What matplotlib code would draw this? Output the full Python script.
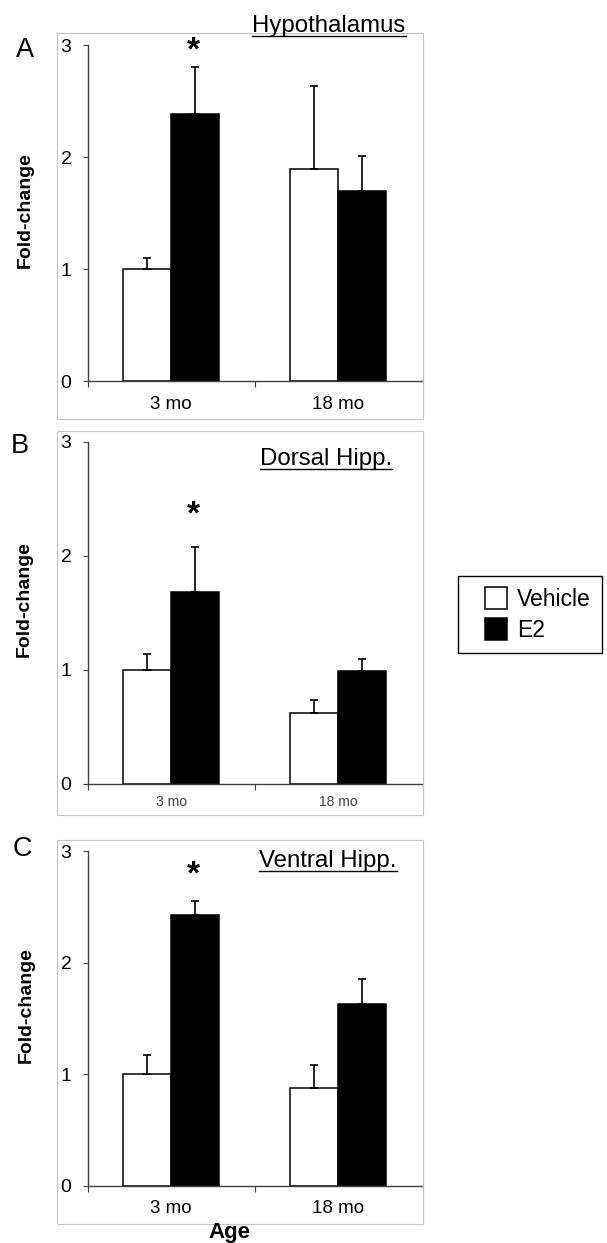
import matplotlib
matplotlib.use('Agg')
from matplotlib import pyplot as plt
from matplotlib.patches import Rectangle
from matplotlib.lines import Line2D
from matplotlib.legend_handler import HandlerPatch

plt.rcParams['font.family'] = ['Liberation Sans', 'DejaVu Sans']

# data
ages = ['3 mo', '18 mo']
regions = ['Hypothalamus', 'Dorsal Hipp.', 'Ventral Hipp.']
panel_letters = ['A', 'B', 'C']
vehicle_mean = [[1.00, 1.89], [1.00, 0.62], [1.00, 0.88]]
vehicle_err = [[0.10, 0.74], [0.14, 0.12], [0.17, 0.20]]
e2_mean = [[2.38, 1.70], [1.68, 0.99], [2.43, 1.63]]
e2_err = [[0.42, 0.31], [0.40, 0.11], [0.12, 0.22]]
star_y = [3.03, 2.44, 2.87]   # asterisk over 3 mo E2

W, H = 607, 1243
def fx(px):
    return px / W
def fy(py):
    return 1 - py / H

# layout in pixels: (y of 0, y of 3), frame top/bottom, title, ylabel, letter
axes_y = [(381, 45), (784, 442), (1186, 851)]
frames = [(33, 419), (431, 815), (840, 1224)]
titles_px = [(329, 32), (326, 465), (328, 867)]
ylabel_px = [(25, 210), (24, 599), (26, 1005)]
letter_px = [(25, 57), (20, 453), (22, 856)]
xlab_size = [13.5, 10, 13.5]
xlab_pad = [10.5, 8, 10]
xlab_color = ['black', '#404040', 'black']

fig = plt.figure(figsize=(W / 100, H / 100), dpi=100)
axis_col = '#404040'
bw = 0.287

def square_patch(legend, orig_handle, xdescent, ydescent, width, height, fontsize):
    return Rectangle((-xdescent + width - height, -ydescent), height, height)

titles = []
for i in range(3):
    y0, y3 = axes_y[i]
    ax = fig.add_axes([fx(87.5), fy(y0), (421.5 - 87.5) / W, (y0 - y3) / H])
    x = [0, 1]
    bv = ax.bar([k - bw / 2 for k in x], vehicle_mean[i], bw, color='white',
                edgecolor='black', linewidth=1.1,
                yerr=[[0, 0], vehicle_err[i]], capsize=3.2,
                error_kw=dict(elinewidth=1.2, capthick=1.2, ecolor='black'))
    be = ax.bar([k + bw / 2 for k in x], e2_mean[i], bw, color='black',
                edgecolor='black', linewidth=1.1,
                yerr=[[0, 0], e2_err[i]], capsize=3.2,
                error_kw=dict(elinewidth=1.2, capthick=1.2, ecolor='black'))
    ax.set_xlim(-0.5, 1.5)
    ax.set_ylim(0, 3)
    ax.set_yticks([0, 1, 2, 3])
    ax.set_xticks(x)
    ax.set_xticklabels(ages)
    ax.set_xticks([-0.5, 0.5], minor=True)
    for s in ['top', 'right']:
        ax.spines[s].set_visible(False)
    for s in ['left', 'bottom']:
        ax.spines[s].set_color(axis_col)
        ax.spines[s].set_linewidth(1.0)
    ax.tick_params(axis='y', direction='out', length=3.6, width=0.8,
                   color=axis_col, labelsize=14, pad=8)
    ax.tick_params(axis='x', which='major', length=0, labelsize=xlab_size[i],
                   pad=xlab_pad[i], labelcolor=xlab_color[i])
    ax.tick_params(axis='x', which='minor', direction='out', length=4.5,
                   width=0.8, color=axis_col)
    ax.patch.set_alpha(0)

    ax.annotate('*', xy=(bw / 2 - 0.01, star_y[i]), xytext=(0, -13),
                textcoords='offset points', ha='center', va='baseline',
                fontsize=24, fontweight='bold', annotation_clip=False)

    # light grey frame around the panel
    ft, fb = frames[i]
    fig.add_artist(Rectangle((fx(57), fy(fb)), (423 - 57) / W, (fb - ft) / H,
                             fill=False, edgecolor='#c4c4c4', linewidth=0.8,
                             transform=fig.transFigure))

    tx, ty = titles_px[i]
    t = fig.text(fx(tx), fy(ty), regions[i], ha='center', va='baseline',
                 fontsize=17.3)
    titles.append((t, ty))

    lx, ly = ylabel_px[i]
    fig.text(fx(lx), fy(ly), 'Fold-change', rotation=90, ha='center',
             va='center', fontsize=14, fontweight='bold')
    px, py = letter_px[i]
    fig.text(fx(px), fy(py), panel_letters[i], ha='center', va='baseline',
             fontsize=19.5)

    if i == 0:
        handles = [bv.patches[0], be.patches[0]]

fig.text(fx(229), fy(1238), 'Age', ha='center', va='baseline', fontsize=16,
         fontweight='bold')

leg = fig.legend(handles, ['Vehicle', 'E2'], loc='upper left',
                 bbox_to_anchor=(fx(458), fy(576)), borderaxespad=0,
                 fontsize=16.5, fancybox=False, framealpha=1, edgecolor='black',
                 borderpad=0.5, handlelength=1.62, handleheight=1.05,
                 handletextpad=0.45, labelspacing=0.33,
                 handler_map={Rectangle: HandlerPatch(patch_func=square_patch)})
leg.get_frame().set_linewidth(1.0)

# underline the region titles
fig.canvas.draw()
r = fig.canvas.get_renderer()
for t, ty in titles:
    bb = t.get_window_extent(r)
    yl = fy(ty + 3.5)
    fig.add_artist(Line2D([bb.x0 / W, bb.x1 / W], [yl, yl], color='black',
                          linewidth=1.0, transform=fig.transFigure))

fig.savefig('out.png', dpi=100)
